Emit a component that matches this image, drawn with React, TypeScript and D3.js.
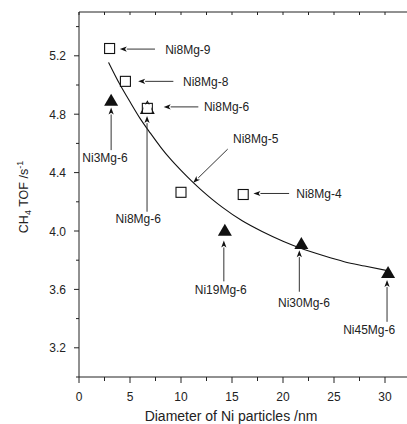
import React, { useEffect, useRef } from "react";
import * as d3 from "d3";

// Ni8Mg-x series (open squares), Ni particle size /nm vs CH4 TOF /s-1
const squareNames = ["Ni8Mg-9", "Ni8Mg-8", "Ni8Mg-6", "Ni8Mg-5", "Ni8Mg-4"];
const squareD = [3.0, 4.55, 6.7, 10.0, 16.1];
const squareTof = [5.25, 5.025, 4.84, 4.265, 4.25];

// NixMg-6 series (filled triangles)
const triNames = ["Ni3Mg-6", "Ni19Mg-6", "Ni30Mg-6", "Ni45Mg-6"];
const triD = [3.15, 14.3, 21.8, 30.3];
const triTof = [4.895, 4.005, 3.915, 3.715];

// fitted curve
const curveD = [2.9, 4, 5, 6, 7, 8, 9, 10, 11, 12, 13, 14, 16, 18, 20, 22, 24, 26, 28, 30.5];
const curveTof = [5.155, 5.005, 4.885, 4.77, 4.67, 4.575, 4.49, 4.415, 4.345, 4.28, 4.22, 4.165, 4.07, 3.995, 3.93, 3.875, 3.83, 3.79, 3.76, 3.725];

// horizontal arrows: [tipX, tailX, y, labelX]
const hArrows = [
	{ label: "Ni8Mg-9", tip: 4.0, tail: 7.45, y: 5.246, tx: 8.45 },
	{ label: "Ni8Mg-8", tip: 5.8, tail: 9.25, y: 5.025, tx: 10.2 },
	{ label: "Ni8Mg-6", tip: 8.3, tail: 11.7, y: 4.85, tx: 12.25 },
	{ label: "Ni8Mg-4", tip: 17.1, tail: 20.6, y: 4.257, tx: 21.3 },
];

// vertical arrows pointing up to the marker
const vArrows = [
	{ label: "Ni3Mg-6", x: 3.15, tip: 4.846, tail: 4.554, tx: 2.55, ty: 4.474 },
	{ label: "Ni8Mg-6", x: 6.67, tip: 4.787, tail: 4.132, tx: 5.81, ty: 4.056 },
	{ label: "Ni19Mg-6", x: 14.2, tip: 3.935, tail: 3.655, tx: 13.9, ty: 3.568 },
	{ label: "Ni30Mg-6", x: 21.6, tip: 3.869, tail: 3.584, tx: 22.06, ty: 3.477 },
	{ label: "Ni45Mg-6", x: 30.2, tip: 3.664, tail: 3.378, tx: 28.45, ty: 3.292 },
];

// slanted arrow for Ni8Mg-5
const slant = { label: "Ni8Mg-5", x1: 14.58, y1: 4.561, x2: 11.2, y2: 4.33, tx: 15.1, ty: 4.6 };

const xMajor = [0, 5, 10, 15, 20, 25, 30];
const xMinor = [2.5, 7.5, 12.5, 17.5, 22.5, 27.5, 32.5];
const yMajor = [3.2, 3.6, 4.0, 4.4, 4.8, 5.2];
const yMinor = [3.0, 3.4, 3.8, 4.2, 4.6, 5.0, 5.4];

const FONT = "'Liberation Sans', Arial, sans-serif";
const INK = "#222";

const App = () => {
	const svgRef = useRef<SVGSVGElement>(null);

	useEffect(() => {
		const svg = d3.select(svgRef.current);
		svg.selectAll("*").remove();

		const x = d3.scaleLinear().domain([0, 33]).range([79, 415.6]);
		const y = d3.scaleLinear().domain([3.0, 5.5]).range([377, 12]);
		const [x0, x1] = x.range();
		const [yb, yt] = y.range();

		const g = svg.append("g").attr("font-family", FONT).attr("fill", INK);

		// frame lines (right side is outside the picture)
		g.append("line").attr("x1", x0).attr("x2", x1).attr("y1", yb).attr("y2", yb).attr("stroke", INK);
		g.append("line").attr("x1", x0).attr("x2", x1).attr("y1", yt).attr("y2", yt).attr("stroke", INK);
		g.append("line").attr("x1", x0).attr("x2", x0).attr("y1", yt).attr("y2", yb).attr("stroke", INK);

		// x ticks
		xMajor.forEach((v) => {
			g.append("line").attr("x1", x(v)).attr("x2", x(v)).attr("y1", yb).attr("y2", yb + 6).attr("stroke", INK);
			g.append("text")
				.attr("x", x(v))
				.attr("y", 401)
				.attr("text-anchor", "middle")
				.attr("font-size", 12)
				.text(String(v));
		});
		xMinor.forEach((v) => {
			g.append("line").attr("x1", x(v)).attr("x2", x(v)).attr("y1", yb).attr("y2", yb + 4).attr("stroke", INK);
		});
		// top ticks, inward
		[...xMajor, ...xMinor].forEach((v) => {
			g.append("line").attr("x1", x(v)).attr("x2", x(v)).attr("y1", yt).attr("y2", yt + 3).attr("stroke", INK);
		});

		// y ticks
		yMajor.forEach((v) => {
			g.append("line").attr("x1", x0 - 5).attr("x2", x0).attr("y1", y(v)).attr("y2", y(v)).attr("stroke", INK);
			g.append("text")
				.attr("x", 66)
				.attr("y", y(v) + 4.5)
				.attr("text-anchor", "end")
				.attr("font-size", 12)
				.text(d3.format(".1f")(v));
		});
		yMinor.forEach((v) => {
			g.append("line").attr("x1", x0 - 3).attr("x2", x0).attr("y1", y(v)).attr("y2", y(v)).attr("stroke", INK);
		});

		// axis titles
		g.append("text")
			.attr("x", 231)
			.attr("y", 421)
			.attr("text-anchor", "middle")
			.attr("font-size", 14)
			.text("Diameter of Ni particles /nm");

		const yt2 = g
			.append("text")
			.attr("transform", `translate(28,197) rotate(-90)`)
			.attr("text-anchor", "middle")
			.attr("font-size", 12.5);
		yt2.append("tspan").text("CH");
		yt2.append("tspan").attr("font-size", 9).attr("dy", 3).text("4");
		yt2.append("tspan").attr("dy", -3).text(" TOF /s");
		yt2.append("tspan").attr("font-size", 9).attr("dy", -5).text("-1");

		// fitted curve
		const line = d3
			.line<number>()
			.x((d) => x(d))
			.y((_, i) => y(curveTof[i]))
			.curve(d3.curveMonotoneX);
		g.append("path").attr("d", line(curveD)).attr("fill", "none").attr("stroke", "#111").attr("stroke-width", 1.1);

		// arrow helper
		const arrow = (ax1: number, ay1: number, ax2: number, ay2: number) => {
			const ang = Math.atan2(ay2 - ay1, ax2 - ax1);
			const len = 7;
			const w = 2.6;
			const bx = ax2 - len * Math.cos(ang);
			const by = ay2 - len * Math.sin(ang);
			g.append("line")
				.attr("x1", ax1)
				.attr("y1", ay1)
				.attr("x2", bx)
				.attr("y2", by)
				.attr("stroke", "#333")
				.attr("stroke-width", 1);
			const px = -Math.sin(ang) * w;
			const py = Math.cos(ang) * w;
			g.append("path")
				.attr("d", `M${ax2},${ay2}L${bx + px},${by + py}L${bx + len * 0.25 * Math.cos(ang)},${by + len * 0.25 * Math.sin(ang)}L${bx - px},${by - py}Z`)
				.attr("fill", "#111");
		};

		hArrows.forEach((a) => {
			arrow(x(a.tail), y(a.y), x(a.tip), y(a.y));
			g.append("text")
				.attr("x", x(a.tx))
				.attr("y", y(a.y) + 4.5)
				.attr("font-size", 12)
				.text(a.label);
		});
		vArrows.forEach((a) => {
			arrow(x(a.x), y(a.tail), x(a.x), y(a.tip));
			g.append("text")
				.attr("x", x(a.tx))
				.attr("y", y(a.ty))
				.attr("text-anchor", "middle")
				.attr("font-size", 12)
				.text(a.label);
		});
		arrow(x(slant.x1), y(slant.y1), x(slant.x2), y(slant.y2));
		g.append("text")
			.attr("x", x(slant.tx))
			.attr("y", y(slant.ty))
			.attr("font-size", 12)
			.text(slant.label);

		// squares
		const s = 10;
		squareD.forEach((d, i) => {
			g.append("rect")
				.attr("x", x(d) - s / 2)
				.attr("y", y(squareTof[i]) - s / 2)
				.attr("width", s)
				.attr("height", s)
				.attr("fill", "white")
				.attr("stroke", "#111")
				.attr("stroke-width", 1.1)
				.append("title")
				.text(squareNames[i]);
		});
		// Ni8Mg-6 also belongs to the NixMg-6 series: hollow triangle on top of the square
		const ni86 = squareNames.indexOf("Ni8Mg-6");
		{
			const cx = x(squareD[ni86]);
			const cy = y(squareTof[ni86]);
			g.append("path")
				.attr("d", `M${cx},${cy - 7}L${cx + 6.5},${cy + 5}L${cx - 6.5},${cy + 5}Z`)
				.attr("fill", "none")
				.attr("stroke", "#111")
				.attr("stroke-width", 1.1);
			g.append("rect")
				.attr("x", cx - s / 2 + 1)
				.attr("y", cy - s / 2 + 1)
				.attr("width", s - 2)
				.attr("height", s - 2)
				.attr("fill", "white");
		}

		// filled triangles
		const tw = 14;
		const th = 11;
		triD.forEach((d, i) => {
			const cx = x(d);
			const cy = y(triTof[i]);
			g.append("path")
				.attr("d", `M${cx},${cy - th / 2 - 1}L${cx + tw / 2},${cy + th / 2}L${cx - tw / 2},${cy + th / 2}Z`)
				.attr("fill", "#111")
				.append("title")
				.text(triNames[i]);
		});
	}, []);

	return (
		<div>
			<svg
				ref={svgRef}
				width={407}
				height={424}
				style={{ position: "absolute", left: 0, top: 0, background: "white" }}
			></svg>
		</div>
	);
};

export default App;
